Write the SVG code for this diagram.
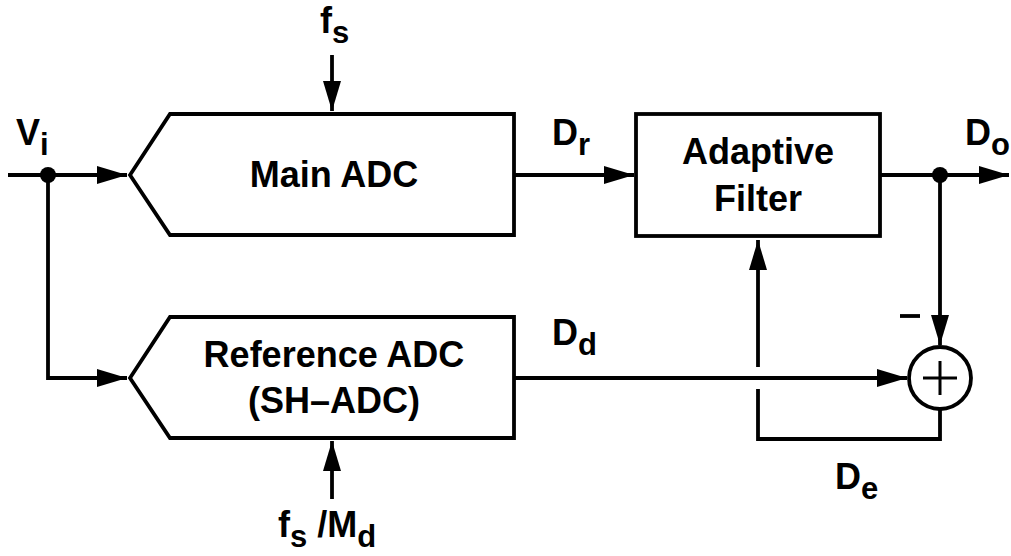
<svg xmlns="http://www.w3.org/2000/svg" width="1011" height="556" viewBox="0 0 1011 556">
<style>
.ln{fill:none;stroke:#000;stroke-width:3.8;stroke-linejoin:miter}
.bx{fill:#fff;stroke:#000;stroke-width:3.8}
.t{font-family:"Liberation Sans",Arial,sans-serif;font-weight:bold;font-size:36px;fill:#000}
.s{font-size:31px}
</style>
<defs>
<marker id="ah" markerUnits="userSpaceOnUse" markerWidth="30" markerHeight="18" refX="30" refY="9" orient="auto">
<path d="M0,0 L30,9 L0,18 z" fill="#000"/>
</marker>
</defs>
<rect width="1011" height="556" fill="#fff"/>
<g id="connectors">
<line class="ln" x1="8" y1="175" x2="127" y2="175" marker-end="url(#ah)"/>
<polyline class="ln" points="48,175 48,378 127,378" marker-end="url(#ah)"/>
<line class="ln" x1="332" y1="55" x2="332" y2="111" marker-end="url(#ah)"/>
<line class="ln" x1="332" y1="499" x2="332" y2="441" marker-end="url(#ah)"/>
<line class="ln" x1="514" y1="175" x2="634" y2="175" marker-end="url(#ah)"/>
<line class="ln" x1="880" y1="175" x2="1009" y2="175" marker-end="url(#ah)"/>
<line class="ln" x1="940" y1="175" x2="940" y2="345" marker-end="url(#ah)"/>
<line class="ln" x1="514" y1="378" x2="907" y2="378" marker-end="url(#ah)"/>
<polyline class="ln" points="940,409 940,439 758,439 758,389"/>
<line class="ln" x1="758" y1="367" x2="758" y2="240" marker-end="url(#ah)"/>
<circle cx="48" cy="175" r="8" fill="#000"/>
<circle cx="940" cy="175" r="8" fill="#000"/>
</g>
<g id="main-adc">
<polygon class="bx" points="130,175 170,114 514,114 514,235 170,235"/>
<text class="t" x="334" y="187" text-anchor="middle">Main ADC</text>
</g>
<g id="reference-adc">
<polygon class="bx" points="130,378 170,317 514,317 514,438 170,438"/>
<text class="t" x="334" y="367" text-anchor="middle">Reference ADC</text>
<text class="t" x="334" y="413" text-anchor="middle">(SH–ADC)</text>
</g>
<g id="adaptive-filter">
<rect class="bx" x="636" y="114" width="244" height="122"/>
<text class="t" x="758" y="164" text-anchor="middle">Adaptive</text>
<text class="t" x="758" y="211" text-anchor="middle">Filter</text>
</g>
<g id="summer">
<circle class="bx" cx="940" cy="378" r="31"/>
<path d="M923,378 H957 M940,361 V395" stroke="#000" stroke-width="3" fill="none"/>
<line x1="900" y1="316" x2="920" y2="316" stroke="#000" stroke-width="3.8"/>
</g>
<g id="labels">
<text class="t" x="16" y="145">V<tspan class="s" dy="10">i</tspan></text>
<text class="t" x="320" y="33">f<tspan class="s" dy="10">s</tspan></text>
<text class="t" x="278" y="537">f<tspan class="s" dy="10">s</tspan><tspan dy="-10"> /M</tspan><tspan class="s" dy="10">d</tspan></text>
<text class="t" x="552" y="145">D<tspan class="s" dy="10">r</tspan></text>
<text class="t" x="965" y="145">D<tspan class="s" dy="10">o</tspan></text>
<text class="t" x="552" y="345">D<tspan class="s" dy="10">d</tspan></text>
<text class="t" x="835" y="489">D<tspan class="s" dy="10">e</tspan></text>
</g>
</svg>
